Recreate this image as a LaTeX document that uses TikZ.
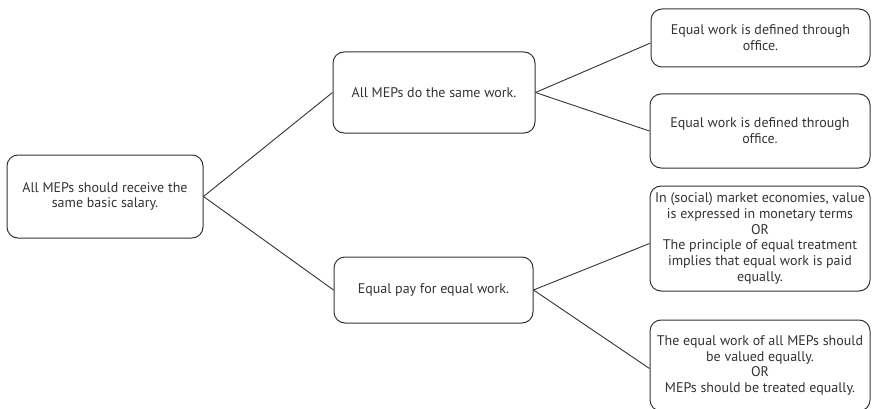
\documentclass[tikz,border=0pt]{standalone}
\usepackage{fontspec}
\setmainfont{PT Sans}
\definecolor{ink}{HTML}{333333}
\begin{document}
\begin{tikzpicture}[x=1pt,y=-1pt,
  box/.style={draw=ink, line width=1pt, rounded corners=11pt, align=center,
    text=ink, inner sep=1pt, font=\fontsize{14}{15.8}\selectfont},
  link/.style={draw=ink, line width=0.9pt}]
\useasboundingbox (0,0) rectangle (872,409);
\node[box, minimum width=196pt, minimum height=83pt] (n1) at (105,196.5) {All MEPs should receive the\\same basic salary.};
\node[box, minimum width=202pt, minimum height=81pt] (n2) at (434,92.5) {All MEPs do the same work.};
\node[box, minimum width=199pt, minimum height=66pt] (n3) at (433.5,290) {Equal pay for equal work.};
\node[box, minimum width=219pt, minimum height=58pt] (n4) at (760.5,38) {Equal work is defined through\\office.};
\node[box, minimum width=220pt, minimum height=74pt] (n5) at (760,131) {Equal work is defined through\\office.};
\node[box, minimum width=220pt, minimum height=105pt] (n6) at (760,238.5) {In (social) market economies, value\\is expressed in monetary terms\\OR\\The principle of equal treatment\\implies that equal work is paid\\equally.};
\node[box, minimum width=220pt, minimum height=91pt] (n7) at (760,365.5) {The equal work of all MEPs should\\be valued equally.\\OR\\MEPs should be treated equally.};
\draw[link] (n1.east) -- (n2.west);
\draw[link] (n1.east) -- (n3.west);
\draw[link] (n2.east) -- ([yshift=-5pt]n4.west);
\draw[link] (n2.east) -- (n5.west);
\draw[link] (n3.east) -- ([yshift=-5pt]n6.west);
\draw[link] (n3.east) -- ([yshift=-3pt]n7.west);
\end{tikzpicture}
\end{document}
